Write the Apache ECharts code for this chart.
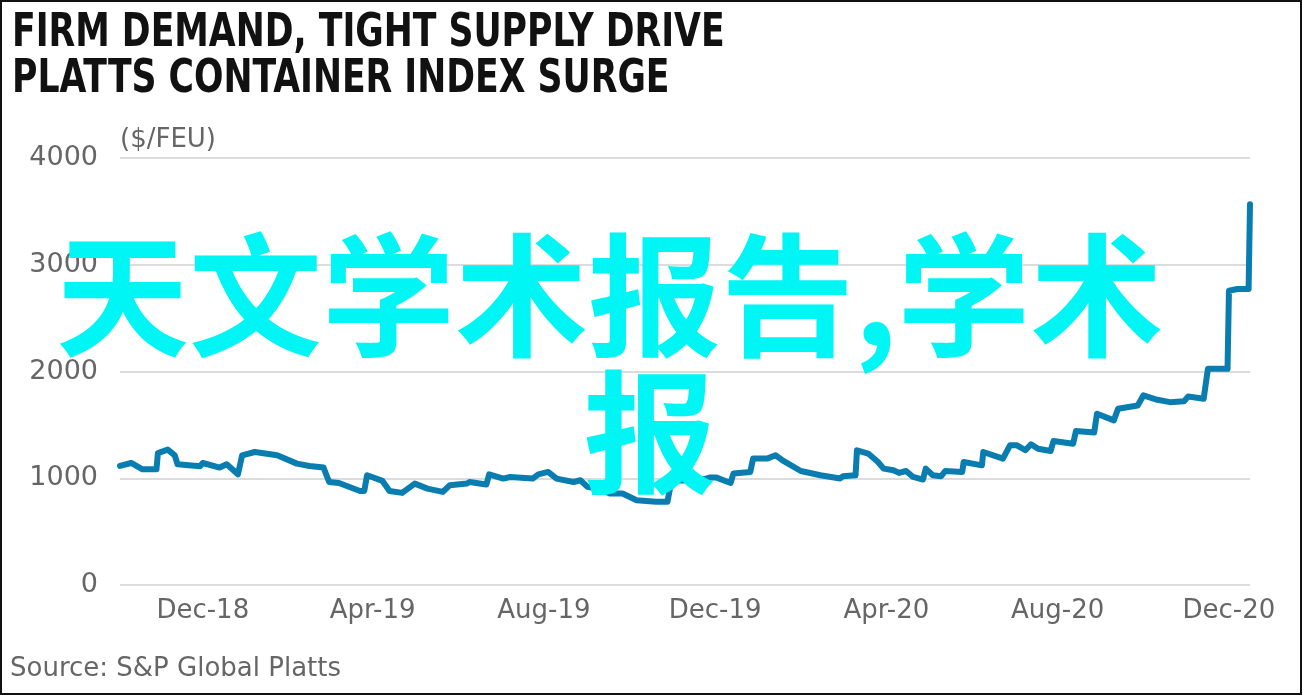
<!DOCTYPE html>
<html>
<head>
<meta charset="utf-8">
<script src="https://cdn.jsdelivr.net/npm/echarts@6/dist/echarts.min.js"></script>
<style>
html,body{margin:0;padding:0;background:#fff;}
#chart{width:1302px;height:695px;}
</style>
</head>
<body>
<div id="chart"></div>
<script>
// ---- data ----
const dates = [
'2018-10-03','2018-10-11','2018-10-19','2018-10-29','2018-10-30','2018-11-06','2018-11-11','2018-11-13','2018-11-29','2018-12-01',
'2018-12-13','2018-12-18','2018-12-26','2018-12-29','2019-01-07','2019-01-23','2019-02-06','2019-02-15','2019-02-25','2019-03-01',
'2019-03-08','2019-03-23','2019-03-26','2019-03-28','2019-04-08','2019-04-13','2019-04-22','2019-05-01','2019-05-10','2019-05-21',
'2019-05-26','2019-06-07','2019-06-09','2019-06-21','2019-06-23','2019-07-03','2019-07-08','2019-07-24','2019-07-28','2019-08-04',
'2019-08-10','2019-08-22','2019-08-27','2019-09-01','2019-09-10','2019-09-17','2019-09-26','2019-10-06','2019-10-20','2019-10-28',
'2019-10-30','2019-11-04','2019-11-20','2019-11-27','2019-12-02','2019-12-12','2019-12-14','2019-12-26','2019-12-28','2020-01-07',
'2020-01-13','2020-01-18','2020-01-31','2020-02-14','2020-02-28','2020-03-01','2020-03-10','2020-03-11','2020-03-19','2020-03-26',
'2020-03-30','2020-04-06','2020-04-10','2020-04-15','2020-04-20','2020-04-27','2020-04-29','2020-05-04','2020-05-10','2020-05-13',
'2020-05-25','2020-05-26','2020-06-08','2020-06-09','2020-06-23','2020-06-28','2020-07-03','2020-07-09','2020-07-13','2020-07-18',
'2020-07-27','2020-07-29','2020-08-12','2020-08-14','2020-08-27','2020-08-29','2020-09-10','2020-09-13','2020-09-27','2020-10-01',
'2020-10-11','2020-10-20','2020-10-30','2020-11-02','2020-11-13','2020-11-16','2020-11-30','2020-12-01','2020-12-07','2020-12-15',
'2020-12-16'
];
const values = [
1115,1143,1084,1084,1236,1268,1215,1131,1112,1143,
1100,1131,1037,1215,1246,1215,1137,1115,1100,965,
956,881,881,1028,975,881,863,950,903,872,
935,950,965,941,1037,997,1012,997,1037,1059,
997,965,981,919,900,857,857,794,779,779,
919,981,980,1006,1006,956,1044,1059,1184,1184,
1215,1168,1068,1028,997,1019,1028,1262,1231,1152,
1090,1075,1050,1068,1012,988,1090,1028,1019,1068,
1059,1152,1121,1246,1184,1308,1308,1262,1318,1277,
1255,1349,1324,1442,1428,1605,1542,1651,1682,1776,
1735,1713,1722,1766,1745,2025,2025,2757,2773,2773,
3567
];
const xTickDates = ['2018-12-01','2019-04-01','2019-08-01','2019-12-01','2020-04-01','2020-08-01','2020-12-01'];
const yTicks = [0, 1000, 2000, 3000, 4000];
const titleLines = ['FIRM DEMAND, TIGHT SUPPLY DRIVE', 'PLATTS CONTAINER INDEX SURGE'];
const unitLabel = '($/FEU)';
const sourceText = 'Source: S&P Global Platts';
const overlayLines = ['天文学术报告,学术', '报'];
const monthNames = ['Jan','Feb','Mar','Apr','May','Jun','Jul','Aug','Sep','Oct','Nov','Dec'];

function parseDate(s){ const p = s.split('-').map(Number); return Date.UTC(p[0], p[1]-1, p[2]); }

const chart = echarts.init(document.getElementById('chart'));
const labelFont = '"DejaVu Sans", sans-serif';
const titleFont = 'bold 47px "DejaVu Sans Condensed", "Liberation Sans Narrow", sans-serif';

chart.setOption({
  animation: false,
  backgroundColor: '#fff',
  grid: { left: 120, right: 52, top: 158, bottom: 110, containLabel: false },
  xAxis: {
    type: 'value',
    min: parseDate(dates[0]),
    max: parseDate(dates[dates.length-1]),
    axisLine: { show: false },
    axisTick: { show: false },
    splitLine: { show: false },
    axisLabel: {
      customValues: xTickDates.map(parseDate),
      formatter: function (v) { const d = new Date(v); return monthNames[d.getUTCMonth()] + '-' + String(d.getUTCFullYear()).slice(2); },
      fontFamily: labelFont, fontSize: 26, color: '#666', margin: 13,
      hideOverlap: false
    }
  },
  yAxis: {
    type: 'value', min: yTicks[0], max: yTicks[yTicks.length-1], interval: 1000,
    name: unitLabel, nameLocation: 'end', nameGap: 18,
    nameTextStyle: { fontFamily: labelFont, fontSize: 26, color: '#666', align: 'left', verticalAlign: 'middle' },
    axisLine: { show: false }, axisTick: { show: false },
    splitLine: { lineStyle: { color: '#dcdcdc', width: 2 } },
    axisLabel: { fontFamily: labelFont, fontSize: 27, color: '#666', margin: 22, formatter: function (v) { return String(v); } }
  },
  series: [{
    type: 'line',
    data: dates.map((d, i) => [parseDate(d), values[i]]),
    showSymbol: false,
    lineStyle: { color: '#0a7db0', width: 6, join: 'round', cap: 'round' },
    z: 3
  }],
  graphic: [
    { type: 'rect', silent: true, z: 200, shape: { x: 1, y: 1, width: 1300, height: 693 },
      style: { fill: 'none', stroke: '#111', lineWidth: 2 } },
    { type: 'text', x: 12, y: 34, scaleX: 0.82, z: 10,
      style: { text: titleLines[0], font: titleFont, fill: '#111', verticalAlign: 'middle', align: 'left' } },
    { type: 'text', x: 12, y: 80, scaleX: 0.82, z: 10,
      style: { text: titleLines[1], font: titleFont, fill: '#111', verticalAlign: 'middle', align: 'left' } },
    { type: 'text', left: 10, top: 656, z: 10,
      style: { text: sourceText, font: '26px "DejaVu Sans", sans-serif', fill: '#666' } },
    { type: 'text', x: 56, y: 295, z: 100,
      style: { text: overlayLines[0], font: 'bold 133px "Noto Sans CJK SC"', fill: '#00f5f5', verticalAlign: 'middle', align: 'left' } },
    { type: 'text', x: 650, y: 432, z: 100,
      style: { text: overlayLines[1], font: 'bold 133px "Noto Sans CJK SC"', fill: '#00f5f5', verticalAlign: 'middle', align: 'center' } }
  ]
});
</script>
</body>
</html>
